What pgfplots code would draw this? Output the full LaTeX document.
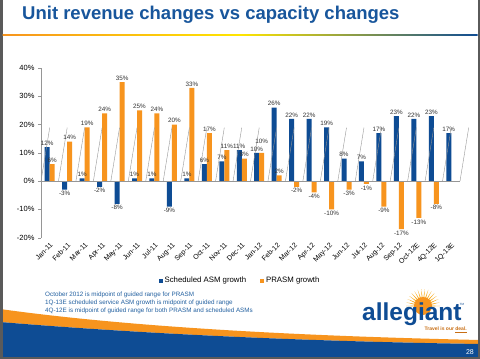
\documentclass[border=0pt]{standalone}
\usepackage{fontspec}
\setmainfont{Liberation Sans}
\usepackage{pgfplots}
\pgfplotsset{compat=1.18}
\definecolor{asmblue}{RGB}{14,76,148}
\definecolor{prasmorange}{RGB}{247,148,30}
\definecolor{titleblue}{RGB}{24,86,156}
\definecolor{noteblue}{RGB}{34,96,160}
\definecolor{axgray}{RGB}{150,150,150}
\definecolor{framegray}{RGB}{90,90,90}
\definecolor{dealbrown}{RGB}{200,110,20}

\begin{document}
\begin{tikzpicture}[x=1pt,y=1pt]
\fill[white] (0,0) rectangle (480,359);
% footer swoosh
\fill[prasmorange] (0,50) .. controls (100,36) and (250,24) .. (480,19) -- (480,15) .. controls (280,18) and (120,27) .. (0,37) -- cycle;
\fill[asmblue] (0,37) .. controls (120,27) and (280,18) .. (480,15) -- (480,2) -- (0,2) -- cycle;
\fill[framegray] (0,0) rectangle (480,2);
\fill[framegray] (0,0) rectangle (2.5,359);
\fill[framegray] (477.5,0) rectangle (480,359);
% title
\node[anchor=base west, text=titleblue, font=\fontsize{18.5}{20}\selectfont\bfseries, inner sep=0] at (22,339.5) {Unit revenue changes vs capacity changes};
\shade[left color=prasmorange, right color=asmblue, middle color=yellow!80!orange] (2.5,323.4) rectangle (477.5,324.8);
% notes
\node[anchor=base west, text=noteblue, font=\fontsize{6.3}{7}\selectfont, inner sep=0] at (45,62.5) {October 2012 is midpoint of guided range for PRASM};
\node[anchor=base west, text=noteblue, font=\fontsize{6.3}{7}\selectfont, inner sep=0] at (45,54.2) {1Q-13E scheduled service ASM growth is midpoint of guided range};
\node[anchor=base west, text=noteblue, font=\fontsize{6.3}{7}\selectfont, inner sep=0] at (45,46) {4Q-12E is midpoint of guided range for both PRASM and scheduled ASMs};
% logo
\begin{scope}[shift={(423,53)}]
\foreach \a in {0,12,...,180} {\fill[prasmorange!80!yellow] (\a-3.5:8) -- (\a:17) -- (\a+3.5:8) -- cycle;}
\fill[prasmorange] (0,0) circle (9pt);
\end{scope}
\node[anchor=base west, text=asmblue, font=\fontsize{24.5}{25}\selectfont\bfseries, inner sep=0] at (362,38) {allegiant};
\node[text=asmblue, font=\fontsize{3}{3}\selectfont, inner sep=0] at (462,55) {TM};
\node[anchor=base east, text=dealbrown, font=\fontsize{5}{6}\selectfont\bfseries, inner sep=0] at (467,28) {Travel is our \underline{deal.}};
\node[anchor=base east, text=white, font=\fontsize{7}{8}\selectfont, inner sep=0] at (474,4.5) {28};

\begin{axis}[
  at={(41pt,121.3pt)}, anchor=south west,
  scale only axis, width=419pt, height=169.7pt,
  xmin=-0.5, xmax=23.5, ymin=-20, ymax=40,
  ybar=0pt, bar width=5pt,
  axis lines=left,
  axis line style={-, draw=axgray},
  x axis line style={draw=none},
  xtick={0,...,23},
  xticklabels={Jan-11,Feb-11,Mar-11,Apr-11,May-11,Jun-11,Jul-11,Aug-11,Sep-11,Oct-11,Nov-11,Dec-11,Jan-12,Feb-12,Mar-12,Apr-12,May-12,Jun-12,Jul-12,Aug-12,Sep-12,Oct-12E,4Q-12E,1Q-13E},
  xtick style={draw=none},
  xticklabel style={rotate=45, anchor=north east, font=\fontsize{7}{8}\selectfont, inner sep=1pt},
  ytick={-20,-10,0,10,20,30,40},
  yticklabels={-20\%,-10\%,0\%,10\%,20\%,30\%,40\%},
  yticklabel style={font=\fontsize{7.5}{9}\selectfont},
  ytick style={draw=axgray},
  tick align=outside, major tick length=3pt,
  nodes near coords={\pgfmathprintnumber[assume math mode=true]{\pgfplotspointmeta}\%},
  every node near coord/.append style={font=\fontsize{6.3}{7}\selectfont, text=black!80, inner sep=1.5pt},
  legend style={at={(0.475,-0.254)}, anchor=center, draw=none, fill=none, legend columns=2, font=\fontsize{7.8}{9}\selectfont, /tikz/every even column/.append style={column sep=12pt}},
  legend image code/.code={\fill[#1] (0pt,-2pt) rectangle (4pt,2pt);},
  clip=false,
]
\addplot[fill=asmblue, draw=none] coordinates {
(0,12) (1,-3) (2,1) (3,-2) (4,-8) (5,1) (6,1) (7,-9) (8,1) (9,6) (10,7) (11,11)
(12,10) (13,26) (14,22) (15,22) (16,19) (17,8) (18,7) (19,17) (20,23) (21,22) (22,23) (23,17)};
\addplot[fill=prasmorange, draw=none, coordinate style/.condition={x==12}{yshift=8pt}] coordinates {
(0,6) (1,14) (2,19) (3,24) (4,35) (5,25) (6,24) (7,20) (8,33) (9,17) (10,11) (11,8)
(12,10) (13,2) (14,-2) (15,-4) (16,-10) (17,-3) (18,-1) (19,-9) (20,-17) (21,-13) (22,-8)};
\legend{Scheduled ASM growth, PRASM growth}
\draw[axgray] (axis cs:-0.5,0) -- (axis cs:23.5,0);
\pgfplotsinvokeforeach{-0.5,0.5,...,23.5}{\draw[axgray] (axis cs:#1,0) -- ++(0,-3pt);}
\end{axis}
\pgfresetboundingbox
\path[use as bounding box] (0,0) rectangle (480,359);
\end{tikzpicture}
\end{document}
